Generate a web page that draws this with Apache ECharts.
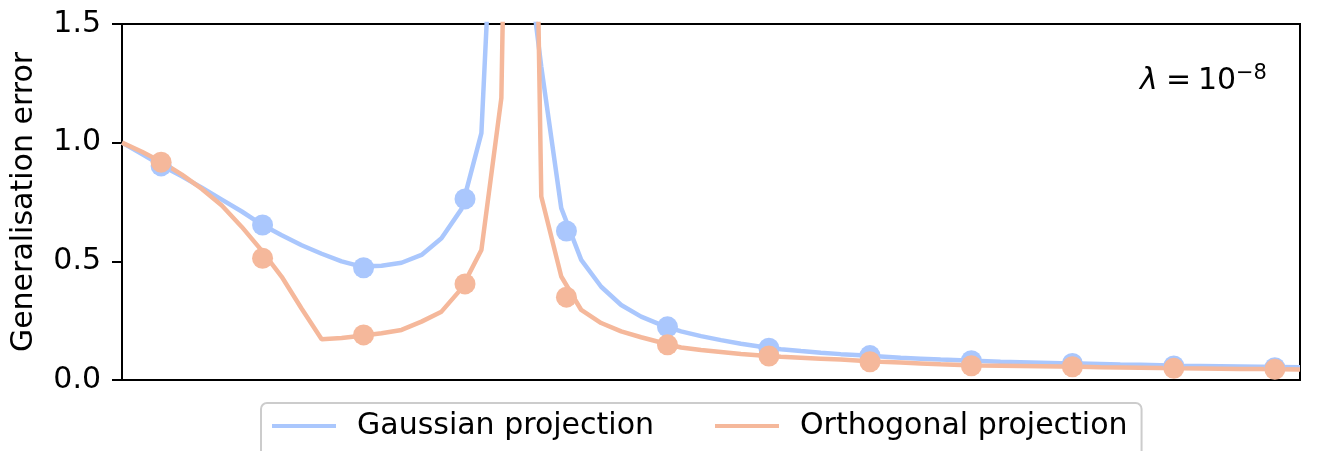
<!DOCTYPE html>
<html>
<head>
<meta charset="utf-8">
<script src="https://cdn.jsdelivr.net/npm/echarts@6/dist/echarts.min.js"></script>
<style>
html, body { margin: 0; padding: 0; background: #fff; }
#chart { width: 1327px; height: 451px; }
</style>
</head>
<body>
<div id="chart"></div>
<script>
// x positions of the theory curves (60 points)
const xLine = [0, 0.05, 0.1, 0.15, 0.2, 0.25, 0.3, 0.35, 0.4, 0.45,
  0.5, 0.55, 0.6, 0.65, 0.7, 0.75, 0.8, 0.85, 0.9, 0.95,
  1.0, 1.05, 1.1, 1.15, 1.2, 1.25, 1.3, 1.35, 1.4, 1.45,
  1.5, 1.55, 1.6, 1.65, 1.7, 1.75, 1.8, 1.85, 1.9, 1.95,
  2.0, 2.05, 2.1, 2.15, 2.2, 2.25, 2.3, 2.35, 2.4, 2.45,
  2.5, 2.55, 2.6, 2.65, 2.7, 2.75, 2.8, 2.85, 2.9, 2.95];
const gaussLine = [1.0, 0.952, 0.903, 0.858, 0.81, 0.76, 0.71, 0.655, 0.61, 0.568,
  0.532, 0.50, 0.478, 0.481, 0.494, 0.527, 0.597, 0.72, 1.04, 2.8,
  2.0, 1.32, 0.724, 0.506, 0.393, 0.316, 0.267, 0.232, 0.205, 0.185,
  0.168, 0.153, 0.140, 0.130, 0.122, 0.115, 0.109, 0.104, 0.099, 0.094,
  0.090, 0.086, 0.083, 0.080, 0.077, 0.075, 0.073, 0.071, 0.069, 0.067,
  0.065, 0.064, 0.062, 0.060, 0.059, 0.058, 0.057, 0.056, 0.055, 0.054];
const orthoLine = [1.0, 0.962, 0.918, 0.865, 0.805, 0.735, 0.645, 0.545, 0.435, 0.30,
  0.172, 0.177, 0.186, 0.197, 0.211, 0.246, 0.288, 0.385, 0.548, 1.188,
  6.0, 0.773, 0.436, 0.295, 0.240, 0.205, 0.180, 0.158, 0.137, 0.126,
  0.118, 0.110, 0.103, 0.098, 0.094, 0.090, 0.086, 0.081, 0.077, 0.074,
  0.070, 0.066, 0.063, 0.061, 0.060, 0.059, 0.058, 0.057, 0.056, 0.054,
  0.053, 0.052, 0.051, 0.049, 0.048, 0.047, 0.046, 0.046, 0.045, 0.044];
// simulation points
const xMarkers = [0.098, 0.352, 0.605, 0.859, 1.113, 1.366, 1.62, 1.873, 2.127, 2.38, 2.634, 2.887];
const gaussMarkers = [0.902, 0.653, 0.473, 0.763, 0.628, 0.224, 0.134, 0.103, 0.081, 0.070, 0.059, 0.052];
const orthoMarkers = [0.918, 0.513, 0.190, 0.405, 0.349, 0.148, 0.101, 0.077, 0.060, 0.056, 0.049, 0.045];
const yTicks = [0, 0.5, 1.0, 1.5];
const seriesNames = ['Gaussian projection', 'Orthogonal projection'];
const yAxisName = 'Generalisation error';

const BLUE = '#aac7fd';
const ORANGE = '#f5b89b';
const FONT = 'DejaVu Sans';
const FS = 30;

const pair = (xs, ys) => xs.map((x, i) => [x, ys[i]]);

const chart = echarts.init(document.getElementById('chart'), null, { renderer: 'canvas' });
chart.setOption({
  animation: false,
  backgroundColor: '#ffffff',
  grid: {
    left: 122, right: 27, top: 24, bottom: 71,
    show: true, borderColor: '#000', borderWidth: 2, backgroundColor: 'transparent'
  },
  xAxis: {
    type: 'value', min: 0, max: 2.95,
    axisLine: { show: false }, axisTick: { show: false },
    axisLabel: { show: false }, splitLine: { show: false }
  },
  yAxis: {
    type: 'value', min: yTicks[0], max: yTicks[yTicks.length - 1], interval: 0.5,
    name: yAxisName, nameLocation: 'middle', nameGap: 83,
    nameTextStyle: { fontFamily: FONT, fontSize: FS, color: '#000' },
    axisLine: { show: false },
    axisTick: { show: true, length: 10, lineStyle: { color: '#000', width: 2 } },
    axisLabel: { fontFamily: FONT, fontSize: FS, color: '#000', margin: 21,
      formatter: v => v.toFixed(1) },
    splitLine: { show: false }
  },
  legend: {
    data: seriesNames,
    left: 261, top: 403,
    orient: 'horizontal',
    icon: 'rect',
    itemWidth: 64, itemHeight: 4,
    itemGap: 61,
    padding: [8, 14, 16, 11],
    borderColor: '#cccccc', borderWidth: 2, borderRadius: 6,
    backgroundColor: 'rgba(255,255,255,0.8)',
    formatter: name => '{t|' + name + '}',
    textStyle: {
      fontFamily: FONT, fontSize: FS, color: '#000',
      rich: { t: { fontFamily: FONT, fontSize: FS, color: '#000', padding: [0, 0, 0, 16], lineHeight: 36 } }
    }
  },
  graphic: [
    { type: 'text', x: 1140, y: 81, style: { text: 'λ', fontFamily: FONT, fontSize: FS, fontStyle: 'italic', fill: '#000', verticalAlign: 'middle' } },
    { type: 'text', x: 1166, y: 81, style: { text: '=', fontFamily: FONT, fontSize: FS, fill: '#000', verticalAlign: 'middle' } },
    { type: 'text', x: 1198, y: 81, style: { text: '10', fontFamily: FONT, fontSize: FS, fill: '#000', verticalAlign: 'middle' } },
    { type: 'text', x: 1236, y: 74, style: { text: '−8', fontFamily: FONT, fontSize: 21, fill: '#000', verticalAlign: 'middle' } }
  ],
  series: [
    { name: seriesNames[0], type: 'line', data: pair(xLine, gaussLine), showSymbol: false,
      lineStyle: { color: BLUE, width: 4.5 }, itemStyle: { color: BLUE }, clip: true, z: 2 },
    { name: seriesNames[1], type: 'line', data: pair(xLine, orthoLine), showSymbol: false,
      lineStyle: { color: ORANGE, width: 4.5 }, itemStyle: { color: ORANGE }, clip: true, z: 3 },
    { name: 'gauss-sim', type: 'scatter', data: pair(xMarkers, gaussMarkers), symbolSize: 21,
      itemStyle: { color: BLUE, opacity: 1 }, z: 4 },
    { name: 'ortho-sim', type: 'scatter', data: pair(xMarkers, orthoMarkers), symbolSize: 21,
      itemStyle: { color: ORANGE, opacity: 1 }, z: 5 }
  ]
});
</script>
</body>
</html>
